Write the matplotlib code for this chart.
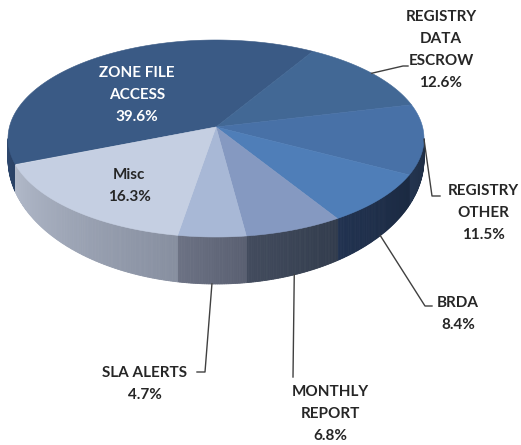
import numpy as np
import matplotlib.pyplot as plt
from matplotlib.colors import to_rgb

# slices, clockwise from the big one
names = ["ZONE FILE\nACCESS", "REGISTRY\nDATA\nESCROW", "REGISTRY\nOTHER", "BRDA",
         "MONTHLY\nREPORT", "SLA ALERTS", "Misc"]
shares = [39.6, 12.6, 11.5, 8.4, 6.8, 4.7, 16.3]

top_colors = ["#3a5a85", "#426895", "#4871a7", "#4f7eb8", "#8599c1", "#a8b8d6", "#c5cfe2"]
side_colors = [("#2f4a70", "#2a4266"), ("#2c4468", "#253b5c"), ("#24354f", "#1e2d45"),
               ("#213250", "#1b2a42"), ("#434c5e", "#323c4d"), ("#6c7284", "#5a6072"),
               ("#b1b9c9", "#878fa0")]

# label placement (pixels): inside labels and outside labels with leader elbows
inside = {0: (137, 95, "white"), 6: (129, 186, "#262626")}
outside = {1: ((441, 50), [(403, 66), (408, 66)]),
           2: ((483, 213), [(432, 196), (440, 196)]),
           3: ((458, 314), [(425, 306), (432, 306)]),
           4: ((330, 414), [(293, 377)]),
           5: ((145, 384), [(205, 372), (197, 372)])}

# pie geometry in pixel coords (bottom ellipse taller for perspective)
cx, a = 216, 208
cy_top, b_top = 138.5, 98.5
cy_bot, b_bot = 159, 125
k = 0.117          # perspective: true centre sits above ellipse centre
start = 201.5

def warp(theta):
    # true angle on the disc -> parametric angle on the drawn ellipse
    th = np.radians(theta)
    d = 1 + k * np.sin(th)
    s = (np.sin(th) + k) / d
    c = np.sqrt(1 - k * k) * np.cos(th) / d
    t = np.degrees(np.arctan2(s, c))
    # keep it continuous with theta
    return t + 360 * np.round((theta - t) / 360)

def top_pt(t):
    t = np.radians(t)
    return cx + a * np.cos(t), cy_top - b_top * np.sin(t)

def bot_pt(t):
    t = np.radians(t)
    return cx + a * np.cos(t), cy_bot - b_bot * np.sin(t)

apex = (cx, cy_top - b_top * k)

fig = plt.figure(figsize=(5.21, 4.45), dpi=100)
ax = fig.add_axes([0, 0, 1, 1])
ax.set_xlim(0, 521)
ax.set_ylim(445, 0)
ax.axis("off")

# slice angle ranges (true angles)
ends = start - np.cumsum(shares) / 100 * 360
begins = np.concatenate([[start], ends[:-1]])

# side walls (only the front half, t in 180..360)
for i in range(len(shares)):
    t1, t2 = warp(ends[i]), warp(begins[i])
    lo = t1 % 360
    hi = lo + (t2 - t1)
    s = max(lo, 180)
    e = min(hi, 360)
    if e <= s:
        continue
    n = max(int((e - s) / 0.5), 2)
    ts = np.linspace(s, e, n + 1)
    c1, c2 = np.array(to_rgb(side_colors[i][0])), np.array(to_rgb(side_colors[i][1]))
    for j in range(n):
        f = j / max(n - 1, 1)
        col = c1 + (c2 - c1) * f
        ta, tb = ts[j], ts[j + 1]
        pts = [top_pt(ta), top_pt(tb), bot_pt(tb), bot_pt(ta)]
        ax.add_patch(plt.Polygon(pts, closed=True, fc=col, ec=col, lw=0.6))

# top faces
for i in range(len(shares)):
    ts = warp(np.linspace(begins[i], ends[i], 150))
    pts = [apex] + [top_pt(t) for t in ts]
    ax.add_patch(plt.Polygon(pts, closed=True, fc=top_colors[i], ec=top_colors[i], lw=0.4))

font = dict(family="Lato", weight="bold", fontsize=11, ha="center", va="center", linespacing=1.72)

for i, (x, y, col) in inside.items():
    ax.text(x, y, f"{names[i]}\n{shares[i]}%", color=col, **font)

for i, ((lx, ly), elbow) in outside.items():
    mid = warp((begins[i] + ends[i]) / 2)
    m = mid % 360
    anchor = bot_pt(mid) if 200 < m < 345 else top_pt(mid)
    xs = [anchor[0]] + [p[0] for p in elbow]
    ys = [anchor[1]] + [p[1] for p in elbow]
    ax.plot(xs, ys, color="#404040", lw=1.0)
    ax.text(lx, ly, f"{names[i]}\n{shares[i]}%", color="#262626", **font)

fig.savefig("out.png", dpi=100, facecolor="white")
